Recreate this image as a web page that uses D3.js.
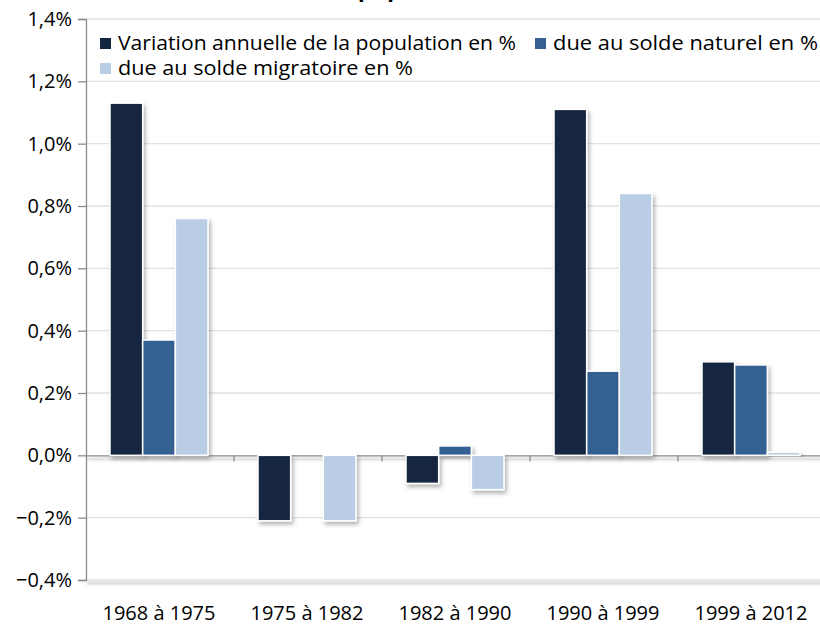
<!DOCTYPE html>
<html>
<head>
<meta charset="utf-8">
<script src="https://cdn.jsdelivr.net/npm/d3@7"></script>
<style>
  body { margin: 0; background: #fff; }
  svg { display: block; font-family: "Open Sans", sans-serif; }
</style>
</head>
<body>
<div class="svg-container"></div>
<script>
var periods = ["1968 à 1975", "1975 à 1982", "1982 à 1990", "1990 à 1999", "1999 à 2012"];
var seriesNames = ["Variation annuelle de la population en %", "due au solde naturel en %", "due au solde migratoire en %"];
var variationTotale = [1.13, -0.21, -0.09, 1.11, 0.30];
var soldeNaturel = [0.37, 0.0, 0.03, 0.27, 0.29];
var soldeMigratoire = [0.76, -0.21, -0.11, 0.84, 0.01];
var yTicks = [-0.4, -0.2, 0.0, 0.2, 0.4, 0.6, 0.8, 1.0, 1.2, 1.4];
var colors = ["#12263f", "#366092", "#b9cde5"];

var width = 820, height = 632;
var plotLeft = 86, plotRight = 826, plotTop = 19, plotBottom = 580;

var svg = d3.select(".svg-container").append("svg")
    .attr("width", width)
    .attr("height", height);

// shadows
var defs = svg.append("defs");
var f = defs.append("filter").attr("id", "shadow")
    .attr("x", "-20%").attr("y", "-20%").attr("width", "150%").attr("height", "150%");
f.append("feDropShadow").attr("dx", 2).attr("dy", 3).attr("stdDeviation", 2)
    .attr("flood-color", "#000").attr("flood-opacity", 0.3);
// lines have a zero-height box, so this one works in page units
var fl = defs.append("filter").attr("id", "lineShadow")
    .attr("filterUnits", "userSpaceOnUse")
    .attr("x", 0).attr("y", 0).attr("width", width).attr("height", height);
fl.append("feDropShadow").attr("dx", 1).attr("dy", 3).attr("stdDeviation", 1.5)
    .attr("flood-color", "#000").attr("flood-opacity", 0.35);

var y = d3.scaleLinear().domain([-0.4, 1.4]).range([plotBottom, plotTop]);
var x0 = d3.scaleBand().domain(periods).range([plotLeft, plotRight]).padding(0);
var x1 = d3.scaleBand().domain(d3.range(3)).range([24, 122]).padding(0);

// title (mostly cut off at top)
svg.append("text")
    .attr("x", 358).attr("y", -3)
    .attr("font-family", "Liberation Sans, sans-serif")
    .attr("font-weight", "bold").attr("font-size", 24)
    .attr("fill", "#000")
    .text("population");

// grid
svg.append("g").selectAll("line")
    .data(yTicks.filter(function(d) { return d !== 0; }))
    .enter().append("line")
    .attr("x1", plotLeft).attr("x2", plotRight)
    .attr("y1", function(d) { return y(d); })
    .attr("y2", function(d) { return y(d); })
    .attr("stroke", "#e2e2e2")
    .attr("stroke-width", 1.3)
    .attr("filter", function(d) { return d === -0.4 ? "url(#lineShadow)" : null; });

// y axis
var yAxis = d3.axisLeft(y).tickValues(yTicks).tickSize(8).tickPadding(6)
    .tickFormat(function(d) { return d3.format(".1f")(d).replace(".", ",") + "%"; });
var gy = svg.append("g").attr("transform", "translate(" + plotLeft + ",0)").call(yAxis);
gy.select(".domain").attr("stroke", "#8c8c8c").attr("stroke-width", 1.3);
gy.selectAll(".tick line").attr("stroke", "#8c8c8c").attr("stroke-width", 1.3);
gy.selectAll(".tick text").attr("font-size", 20).attr("fill", "#000")
    .attr("font-family", "Open Sans, sans-serif");

// bars
var rows = periods.map(function(p, i) {
    return { period: p, values: [variationTotale[i], soldeNaturel[i], soldeMigratoire[i]] };
});

// x axis at zero (under the bars)
var xAxis = d3.axisBottom(x0).tickSize(0).tickFormat("");
var gx = svg.append("g").attr("transform", "translate(0," + y(0) + ")").call(xAxis);
gx.select(".domain").attr("stroke", "#8c8c8c").attr("stroke-width", 1.3).attr("filter", "url(#lineShadow)");
gx.selectAll(".tick").remove();
gx.selectAll(".sep")
    .data(periods.slice(1))
    .enter().append("line")
    .attr("class", "sep")
    .attr("x1", function(d) { return x0(d); })
    .attr("x2", function(d) { return x0(d); })
    .attr("y1", 0).attr("y2", 6)
    .attr("stroke", "#8c8c8c").attr("stroke-width", 1.3);

var groups = svg.append("g").selectAll("g")
    .data(rows)
    .enter().append("g")
    .attr("transform", function(d) { return "translate(" + x0(d.period) + ",0)"; });

groups.selectAll("rect")
    .data(function(d) { return d.values.map(function(v, k) { return { k: k, v: v }; }).filter(function(d) { return d.v !== 0; }); })
    .enter().append("rect")
    .attr("x", function(d) { return x1(d.k); })
    .attr("width", x1.bandwidth())
    .attr("y", function(d) { return y(Math.max(0, d.v)); })
    .attr("height", function(d) { return Math.abs(y(d.v) - y(0)); })
    .attr("fill", function(d) { return colors[d.k]; })
    .attr("stroke", "#fff")
    .attr("stroke-width", 1.5)
    .attr("filter", "url(#shadow)");

// category labels
svg.append("g").selectAll("text")
    .data(periods)
    .enter().append("text")
    .attr("x", function(d) { return x0(d) + x0.bandwidth() / 2 - 1; })
    .attr("y", 620)
    .attr("text-anchor", "middle")
    .attr("font-size", 20)
    .attr("fill", "#000")
    .text(function(d) { return d; });

// legend
var legendItems = [
    { x: 100, y: 43, w: 398 },
    { x: 535, y: 43, w: 265 },
    { x: 100, y: 68, w: 295 }
];
var leg = svg.append("g").selectAll("g")
    .data(seriesNames)
    .enter().append("g")
    .attr("transform", function(d, i) { return "translate(" + legendItems[i].x + "," + legendItems[i].y + ")"; });
leg.append("rect")
    .attr("x", 0).attr("y", -5).attr("width", 11).attr("height", 11)
    .attr("fill", function(d, i) { return colors[i]; });
leg.append("text")
    .attr("x", 18).attr("y", 7)
    .attr("font-size", 20)
    .attr("fill", "#000")
    .attr("textLength", function(d, i) { return legendItems[i].w; })
    .attr("lengthAdjust", "spacingAndGlyphs")
    .text(function(d) { return d; });
</script>
</body>
</html>
